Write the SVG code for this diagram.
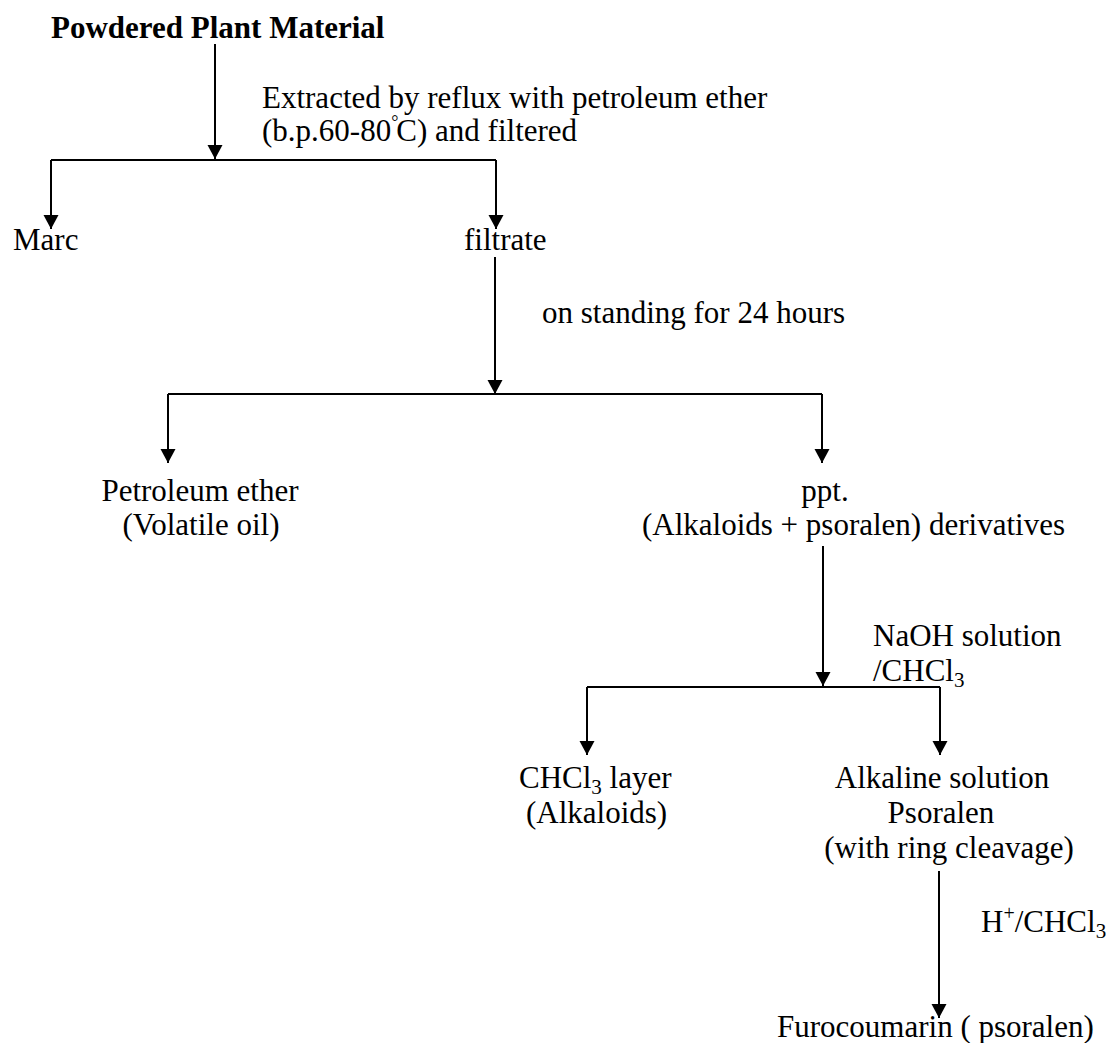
<svg xmlns="http://www.w3.org/2000/svg" width="1106" height="1043" viewBox="0 0 1106 1043">
<style>
text{font-family:"Liberation Serif","Times New Roman",serif;font-size:31px;fill:#000}
.b{font-weight:bold}
.m{text-anchor:middle}
.c path{fill:none;stroke:#000;stroke-width:2;marker-end:url(#ah)}
.c path.n{marker-end:none}
</style>
<defs>
<marker id="ah" markerUnits="userSpaceOnUse" markerWidth="15" markerHeight="16" refX="14" refY="7.5" orient="auto" viewBox="0 0 15 16">
<path d="M0,0 L14,7.5 L0,15 z" fill="#000"/>
</marker>
</defs>
<rect width="1106" height="1043" fill="#fff"/>
<g class="c" id="connectors">
<path d="M215,44 V159"/>
<path class="n" d="M51,160 H496"/>
<path d="M51,160 V229"/>
<path d="M496,160 V229"/>
<path d="M495,257 V394"/>
<path class="n" d="M168,394 H822"/>
<path d="M168,394 V463"/>
<path d="M822,394 V463"/>
<path d="M823,546 V686"/>
<path class="n" d="M587,687 H940"/>
<path d="M587,687 V755"/>
<path d="M940,687 V755"/>
<path d="M939,871 V1018"/>
</g>
<g id="n-powder"><text class="b" x="51" y="38">Powdered Plant Material</text></g>
<g id="l-extract">
<text x="262" y="108">Extracted by reflux with petroleum ether</text>
<text x="262" y="141">(b.p.60-80<tspan font-size="18" dy="-13">°</tspan><tspan dy="13" dx="-2">C) and filtered</tspan></text>
</g>
<g id="n-marc"><text x="13" y="250">Marc</text></g>
<g id="n-filtrate"><text x="464" y="250">filtrate</text></g>
<g id="l-standing"><text x="542" y="323">on standing for 24 hours</text></g>
<g id="n-petroleum">
<text class="m" x="200" y="501">Petroleum ether</text>
<text class="m" x="201" y="535">(Volatile oil)</text>
</g>
<g id="n-ppt">
<text class="m" x="825" y="501">ppt.</text>
<text x="642" y="535">(Alkaloids + psoralen) derivatives</text>
</g>
<g id="l-naoh">
<text x="873" y="646">NaOH solution</text>
<text x="873" y="681">/CHCl<tspan font-size="21" dy="6">3</tspan></text>
</g>
<g id="n-chcl3">
<text x="519" y="788">CHCl<tspan font-size="21" dy="6">3</tspan><tspan dy="-6"> layer</tspan></text>
<text x="526" y="823">(Alkaloids)</text>
</g>
<g id="n-alkaline">
<text class="m" x="942" y="788">Alkaline solution</text>
<text class="m" x="941" y="823">Psoralen</text>
<text class="m" x="949" y="858">(with ring cleavage)</text>
</g>
<g id="l-acid"><text x="981" y="932">H<tspan font-size="20" dy="-12">+</tspan><tspan dy="12">/CHCl</tspan><tspan font-size="21" dy="6">3</tspan></text></g>
<g id="n-furo"><text x="777" y="1037">Furocoumarin ( psoralen)</text></g>
</svg>
